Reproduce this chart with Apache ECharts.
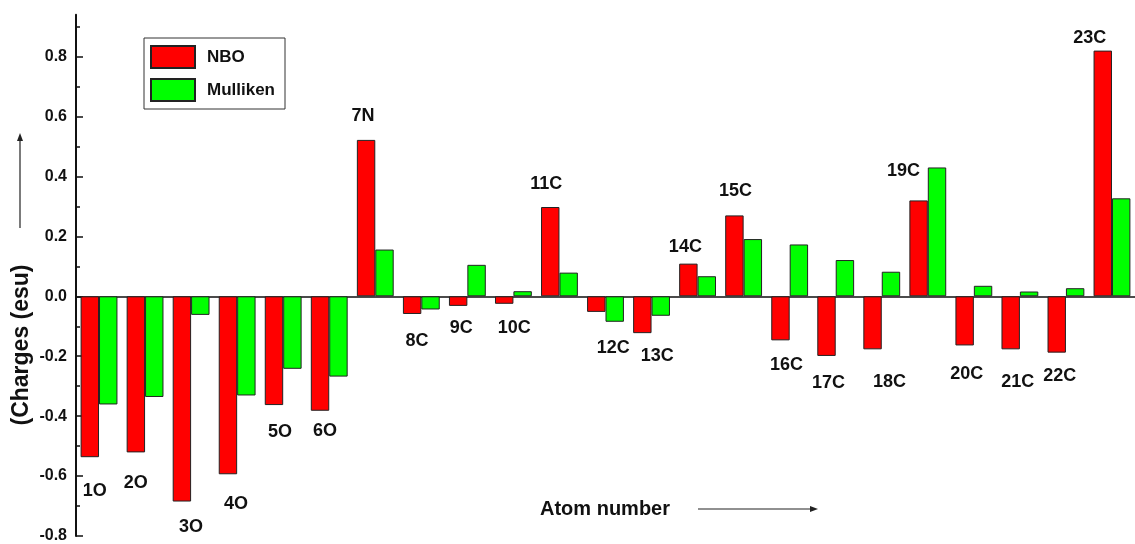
<!DOCTYPE html>
<html>
<head>
<meta charset="utf-8">
<script src="https://cdn.jsdelivr.net/npm/echarts@6/dist/echarts.min.js"></script>
<style>
  html, body { margin: 0; padding: 0; background: #fff; }
  #chart { width: 1135px; height: 544px; }
</style>
</head>
<body>
<div id="chart"></div>
<script>
// Atom labels along the x axis
const atoms = ['1O','2O','3O','4O','5O','6O','7N','8C','9C','10C','11C','12C',
               '13C','14C','15C','16C','17C','18C','19C','20C','21C','22C','23C'];

// Atomic charges (esu)
const nbo = [-0.537,-0.521,-0.685,-0.594,-0.363,-0.382,0.522,-0.059,-0.032,-0.025,0.298,-0.052,
             -0.123,0.109,0.270,-0.147,-0.199,-0.177,0.320,-0.164,-0.177,-0.188,0.820];
const mulliken = [-0.361,-0.336,-0.062,-0.331,-0.242,-0.268,0.156,-0.044,0.105,0.017,0.079,-0.085,
                  -0.065,0.067,0.191,0.173,0.121,0.082,0.430,0.035,0.016,0.027,0.327];

// Y axis tick labels (major) and minor tick positions
const majorTicks = [-0.8,-0.6,-0.4,-0.2,0.0,0.2,0.4,0.6,0.8];
const minorTicks = [-0.7,-0.5,-0.3,-0.1,0.1,0.3,0.5,0.7,0.9];

// Per-atom nudges for the atom labels, in pixels
const labelNudge = [[5,24],[0,21],[9,15],[8,20],[6,17],[5,10],[-3,-14],[5,17],[3,12],[10,14],
                    [-4,-13],[17,26],[15,13],[-3,-7],[1,-14],[6,15],[2,17],[17,23],[-15,-19],
                    [2,19],[7,23],[3,13],[-13,-3]];

const SANS = '"Liberation Sans", Arial, sans-serif';

const chart = echarts.init(document.getElementById('chart'), null, { renderer: 'canvas' });

const nboData = nbo.map((v, i) => ({
  value: v,
  label: {
    show: true,
    formatter: atoms[i],
    position: v >= 0 ? 'top' : 'bottom',
    distance: 0,
    offset: labelNudge[i],
    color: '#111',
    fontFamily: SANS,
    fontWeight: 'bold',
    fontSize: 18,
    lineHeight: 20
  }
}));

chart.setOption({
  animation: false,
  backgroundColor: '#ffffff',
  grid: { left: 76, right: -13, top: 14.65, bottom: 3, containLabel: false },
  legend: {
    orient: 'vertical',
    left: 144,
    top: 38,
    padding: [7, 10, 7, 6],
    itemGap: 9,
    itemWidth: 44,
    itemHeight: 22,
    icon: 'rect',
    borderColor: '#333',
    borderWidth: 1,
    backgroundColor: '#fff',
    textStyle: { color: '#111', fontFamily: SANS, fontWeight: 'bold', fontSize: 17, padding: [0, 0, 0, 7] },
    data: ['NBO', 'Mulliken']
  },
  xAxis: {
    type: 'category',
    data: atoms,
    axisLine: { onZero: true, lineStyle: { color: '#111', width: 1.5 } },
    axisTick: { show: false },
    axisLabel: { show: false },
    splitLine: { show: false }
  },
  yAxis: [
    {
      type: 'value',
      min: -0.8,
      max: 0.94,
      axisLine: { show: true, onZero: false, lineStyle: { color: '#111', width: 2 } },
      axisTick: { show: true, inside: true, length: 7, lineStyle: { color: '#111', width: 1.5 }, customValues: majorTicks },
      axisLabel: {
        customValues: majorTicks,
        margin: 9,
        color: '#111',
        fontFamily: SANS,
        fontWeight: 'bold',
        fontSize: 16,
        formatter: v => v.toFixed(1)
      },
      splitLine: { show: false }
    },
    {
      type: 'value',
      min: -0.8,
      max: 0.94,
      position: 'left',
      axisLine: { show: false },
      axisTick: { show: true, inside: true, length: 4, lineStyle: { color: '#111', width: 1.5 }, customValues: minorTicks },
      axisLabel: { show: false },
      splitLine: { show: false }
    }
  ],
  series: [
    {
      name: 'NBO',
      type: 'bar',
      data: nboData,
      barGap: '0%',
      barCategoryGap: '20%',
      itemStyle: { color: '#ff0000', borderColor: '#222', borderWidth: 1 }
    },
    {
      name: 'Mulliken',
      type: 'bar',
      data: mulliken,
      barGap: '0%',
      barCategoryGap: '20%',
      itemStyle: { color: '#00ff00', borderColor: '#222', borderWidth: 1 }
    }
  ],
  graphic: [
    {
      type: 'text',
      x: 22, y: 345,
      rotation: Math.PI / 2,
      style: { text: '(Charges (esu)', fill: '#111', font: 'bold 23px ' + SANS, align: 'center', verticalAlign: 'middle' }
    },
    { type: 'line', shape: { x1: 20, y1: 228, x2: 20, y2: 139 }, style: { stroke: '#222', lineWidth: 1.2 } },
    { type: 'polygon', shape: { points: [[20, 133], [17, 141], [23, 141]] }, style: { fill: '#222' } },
    {
      type: 'text',
      x: 605, y: 509,
      style: { text: 'Atom number', fill: '#111', font: 'bold 20px ' + SANS, align: 'center', verticalAlign: 'middle' }
    },
    { type: 'line', shape: { x1: 698, y1: 509, x2: 811, y2: 509 }, style: { stroke: '#222', lineWidth: 1.2 } },
    { type: 'polygon', shape: { points: [[818, 509], [810, 506], [810, 512]] }, style: { fill: '#222' } }
  ]
});
</script>
</body>
</html>
